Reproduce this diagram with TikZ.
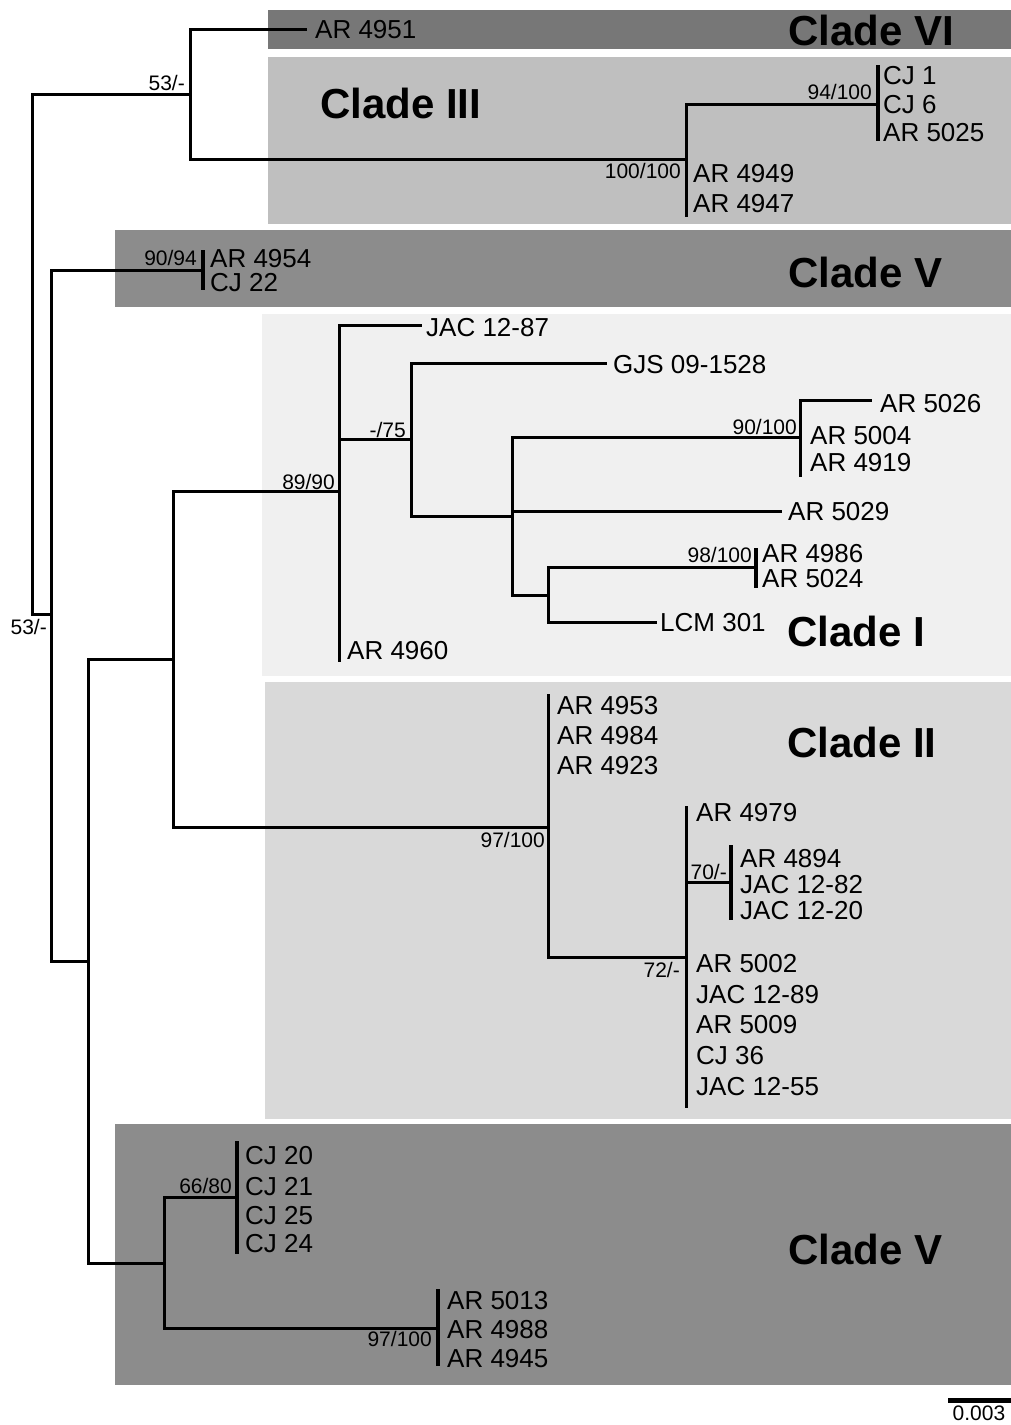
\documentclass[tikz,border=0pt]{standalone}
\usepackage{fontspec}
\setmainfont{Liberation Sans}
\definecolor{cVI}{HTML}{777777}
\definecolor{cIII}{HTML}{BFBFBF}
\definecolor{cV}{HTML}{8C8C8C}
\definecolor{cI}{HTML}{F0F0F0}
\definecolor{cII}{HTML}{D9D9D9}
\tikzset{
  br/.style={line width=3pt, line cap=rect, black},
  bar/.style={line width=3.6pt, black},
  taxon/.style={anchor=west, inner sep=0pt, font=\fontsize{26}{26}\selectfont, text height=18.6pt, text depth=0pt},
  supp/.style={anchor=east, inner sep=0pt, font=\fontsize{21}{21}\selectfont, text height=15pt, text depth=0pt},
  clade/.style={anchor=west, inner sep=0pt, font=\fontsize{42}{42}\selectfont\bfseries, text height=30pt, text depth=0pt}
}
\begin{document}
\begin{tikzpicture}[x=1pt,y=-1pt]
\useasboundingbox (0,0) rectangle (1011,1425);
% clade boxes
\fill[cVI]  (268,10)  rectangle (1011,49);
\fill[cIII] (268,57)  rectangle (1011,224);
\fill[cV]   (115,230) rectangle (1011,307);
\fill[cI]   (262,314) rectangle (1011,676);
\fill[cII]  (265,682) rectangle (1011,1119);
\fill[cV]   (115,1124) rectangle (1011,1385);
% clade labels
\node[clade] (lVI)  at (788,30)   {Clade VI};
\node[clade] (lIII) at (320,103)  {Clade III};
\node[clade] (lVa)  at (788,272)  {Clade V};
\node[clade] (lI)   at (787,631)  {Clade I};
\node[clade] (lII)  at (787,742)  {Clade II};
\node[clade] (lVb)  at (788,1249) {Clade V};
% internal node coordinates
\coordinate (A)  at (51,614);  \coordinate (At) at (51,270);  \coordinate (Ab) at (51,961);
\coordinate (B)  at (32,614);  \coordinate (Bt) at (32,94);
\coordinate (C)  at (190,94);  \coordinate (Ct) at (190,29);  \coordinate (Cb) at (190,159);
\coordinate (D)  at (686,159); \coordinate (Dt) at (686,104); \coordinate (Db) at (686,215);
\coordinate (E)  at (878,104); \coordinate (Et) at (878,65);  \coordinate (Eb) at (878,141);
\coordinate (F)  at (203,270); \coordinate (Ft) at (203,250); \coordinate (Fb) at (203,290);
\coordinate (G)  at (88,961);  \coordinate (Gt) at (88,659);  \coordinate (Gb) at (88,1263);
\coordinate (H)  at (173,659); \coordinate (Ht) at (173,491); \coordinate (Hb) at (173,827);
\coordinate (I)  at (339,491); \coordinate (It) at (339,325); \coordinate (Ib) at (339,660);
\coordinate (J)  at (411,439); \coordinate (Jt) at (411,363); \coordinate (Jb) at (411,516);
\coordinate (K)  at (512,516); \coordinate (Kt) at (512,437); \coordinate (Kb) at (512,595);
\coordinate (L)  at (800,437); \coordinate (Lt) at (800,400); \coordinate (Lb) at (800,475);
\coordinate (M)  at (548,595); \coordinate (Mt) at (548,567); \coordinate (Mb) at (548,622);
\coordinate (N)  at (756,567); \coordinate (Nt) at (756,548); \coordinate (Nb) at (756,588);
\coordinate (O)  at (548,827); \coordinate (Ot) at (548,695); \coordinate (Ob) at (548,957);
\coordinate (P)  at (686,957); \coordinate (Pt) at (686,807); \coordinate (Pb) at (686,1106);
\coordinate (Q)  at (731,882); \coordinate (Qt) at (731,845); \coordinate (Qb) at (731,920);
\coordinate (R)  at (164,1263);\coordinate (Rt) at (164,1197);\coordinate (Rb) at (164,1328);
\coordinate (S)  at (237,1197);\coordinate (St) at (237,1141);\coordinate (Sb) at (237,1254);
\coordinate (T)  at (438,1328);\coordinate (Tt) at (438,1289);\coordinate (Tb) at (438,1366);
% leaf branch ends
\coordinate (e4951) at (305,29);
\coordinate (e1287) at (420,325);
\coordinate (e1528) at (605,363);
\coordinate (e5026) at (870,400);
\coordinate (e5029) at (780,511);
\coordinate (e301)  at (655,622);
% verticals
\draw[br] (At) -- (Ab);
\draw[br] (Bt) -- (B);
\draw[br] (Ct) -- (Cb);
\draw[br] (Dt) -- (Db);
\draw[br] (Gt) -- (Gb);
\draw[br] (Ht) -- (Hb);
\draw[br] (It) -- (Ib);
\draw[br] (Jt) -- (Jb);
\draw[br] (Kt) -- (Kb);
\draw[br] (Lt) -- (Lb);
\draw[br] (Mt) -- (Mb);
\draw[br] (Ot) -- (Ob);
\draw[br] (Pt) -- (Pb);
\draw[br] (Rt) -- (Rb);
\draw[bar] (Et) -- (Eb);
\draw[bar] (Ft) -- (Fb);
\draw[bar] (Nt) -- (Nb);
\draw[bar] (Qt) -- (Qb);
\draw[bar] (St) -- (Sb);
\draw[bar] (Tt) -- (Tb);
% horizontals (parent -> child)
\draw[br] (B) -- (A);
\draw[br] (Bt) -- (C);
\draw[br] (Cb) -- (D);
\draw[br] (Dt) -- (E);
\draw[br] (At) -- (F);
\draw[br] (Ab) -- (G);
\draw[br] (Gt) -- (H);
\draw[br] (Ht) -- (I);
\draw[br] (I |- J) -- (J);
\draw[br] (Jb) -- (K);
\draw[br] (Kt) -- (L);
\draw[br] (Kb) -- (M);
\draw[br] (Mt) -- (N);
\draw[br] (Hb) -- (O);
\draw[br] (Ob) -- (P);
\draw[br] (P |- Q) -- (Q);
\draw[br] (Gb) -- (R);
\draw[br] (Rt) -- (S);
\draw[br] (Rb) -- (T);
\draw[br] (Ct) -- (e4951);
\draw[br] (It) -- (e1287);
\draw[br] (Jt) -- (e1528);
\draw[br] (Lt) -- (e5026);
\draw[br] (K |- e5029) -- (e5029);
\draw[br] (Mb) -- (e301);
% taxon labels
\node[taxon] (t4951) at (315,29) {AR 4951};
\node[taxon] (tcj1) at (883,75) {CJ 1};
\node[taxon] (tcj6) at (883,104) {CJ 6};
\node[taxon] (t5025) at (883,132) {AR 5025};
\node[taxon] (t4949) at (693,173) {AR 4949};
\node[taxon] (t4947) at (693,203) {AR 4947};
\node[taxon] (t4954) at (210,258) {AR 4954};
\node[taxon] (tcj22) at (210,282) {CJ 22};
\node[taxon] (t1287) at (426,327) {JAC 12-87};
\node[taxon] (t1528) at (613,364) {GJS 09-1528};
\node[taxon] (t5026) at (880,403) {AR 5026};
\node[taxon] (t5004) at (810,435) {AR 5004};
\node[taxon] (t4919) at (810,462) {AR 4919};
\node[taxon] (t5029) at (788,511) {AR 5029};
\node[taxon] (t4986) at (762,553) {AR 4986};
\node[taxon] (t5024) at (762,578) {AR 5024};
\node[taxon] (t301) at (660,622) {LCM 301};
\node[taxon] (t4960) at (347,650) {AR 4960};
\node[taxon] (t4953) at (557,705) {AR 4953};
\node[taxon] (t4984) at (557,735) {AR 4984};
\node[taxon] (t4923) at (557,765) {AR 4923};
\node[taxon] (t4979) at (696,812) {AR 4979};
\node[taxon] (t4894) at (740,858) {AR 4894};
\node[taxon] (t1282) at (740,884) {JAC 12-82};
\node[taxon] (t1220) at (740,910) {JAC 12-20};
\node[taxon] (t5002) at (696,963) {AR 5002};
\node[taxon] (t1289) at (696,994) {JAC 12-89};
\node[taxon] (t5009) at (696,1024) {AR 5009};
\node[taxon] (tcj36) at (696,1055) {CJ 36};
\node[taxon] (t1255) at (696,1086) {JAC 12-55};
\node[taxon] (tcj20) at (245,1155) {CJ 20};
\node[taxon] (tcj21) at (245,1186) {CJ 21};
\node[taxon] (tcj25) at (245,1215) {CJ 25};
\node[taxon] (tcj24) at (245,1243) {CJ 24};
\node[taxon] (t5013) at (447,1300) {AR 5013};
\node[taxon] (t4988) at (447,1329) {AR 4988};
\node[taxon] (t4945) at (447,1358) {AR 4945};
% support values
\node[supp] (s1) at (185,83) {53/-};
\node[supp] (s2) at (872,92) {94/100};
\node[supp] (s3) at (681,171) {100/100};
\node[supp] (s4) at (197,258) {90/94};
\node[supp] (s5) at (47,627) {53/-};
\node[supp] (s6) at (335,482) {89/90};
\node[supp] (s7) at (406,430) {-/75};
\node[supp] (s8) at (797,427) {90/100};
\node[supp] (s9) at (752,555) {98/100};
\node[supp] (s10) at (545,840) {97/100};
\node[supp] (s11) at (680,970) {72/-};
\node[supp] (s12) at (727,872) {70/-};
\node[supp] (s13) at (232,1186) {66/80};
\node[supp] (s14) at (432,1339) {97/100};
% scale bar
\coordinate (sbl) at (948,1400);
\coordinate (sbr) at (1011,1400);
\draw[line width=5pt] (sbl) -- (sbr);
\node[supp, anchor=center] (sbt) at (979,1413) {0.003};
\end{tikzpicture}
\end{document}
